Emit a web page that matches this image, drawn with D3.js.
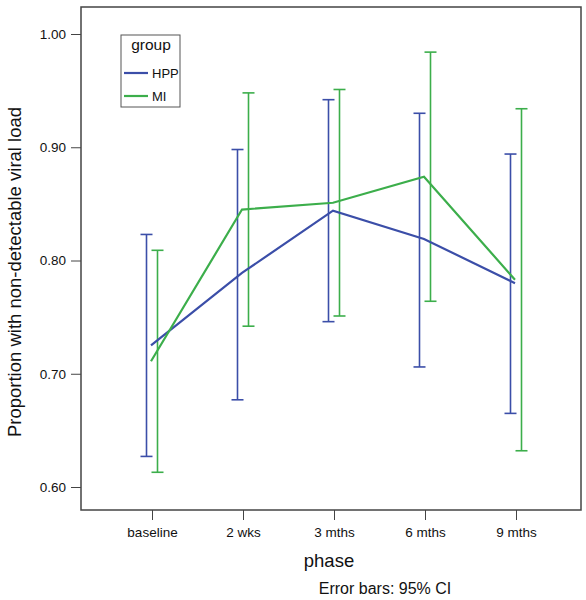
<!DOCTYPE html>
<html><head><meta charset="utf-8">
<script src="https://cdn.jsdelivr.net/npm/d3@7"></script>
<style>body{margin:0;background:#fff}svg{display:block}text{font-family:"Liberation Sans",Arial,sans-serif;fill:#111}</style>
</head><body>
<svg id="c" width="586" height="600"></svg>
<script>
const phases = ["baseline","2 wks","3 mths","6 mths","9 mths"];
const groups = ["HPP","MI"];
const hppMean = [0.725,0.789,0.844,0.819,0.780];
const hppLow  = [0.627,0.677,0.746,0.706,0.665];
const hppHigh = [0.823,0.898,0.942,0.930,0.894];
const miMean  = [0.711,0.845,0.851,0.874,0.783];
const miLow   = [0.613,0.742,0.751,0.764,0.632];
const miHigh  = [0.809,0.948,0.951,0.984,0.934];
const yTicks = [0.60,0.70,0.80,0.90,1.00];
const colors = {HPP:"#3b4ea8", MI:"#3cae4b"};

const svg = d3.select("#c");
const L=81, R=581, T=7, B=510;
const x = d3.scalePoint().domain(phases).range([152,516]);
const y = d3.scaleLinear().domain([0.6,1.0]).range([487,34]);

const series = [
  {g:"HPP", mean:hppMean, lo:hppLow, hi:hppHigh, off:-5.5},
  {g:"MI", mean:miMean, lo:miLow, hi:miHigh, off:5.5}
];

// frame
svg.append("rect").attr("x",L).attr("y",T).attr("width",R-L).attr("height",B-T)
  .attr("fill","none").attr("stroke","#444").attr("stroke-width",1.5);

// y axis
const ya = svg.append("g").attr("transform",`translate(${L},0)`)
  .call(d3.axisLeft(y).tickValues(yTicks).tickFormat(d3.format(".2f")).tickSize(10).tickSizeOuter(0));
ya.select(".domain").remove();
ya.selectAll("line").attr("stroke","#444");
ya.selectAll("text").attr("font-size",13.5).attr("dx","-0.15em");

// x axis
const xa = svg.append("g").attr("transform",`translate(0,${B})`)
  .call(d3.axisBottom(x).tickSize(10).tickSizeOuter(0));
xa.select(".domain").remove();
xa.selectAll("line").attr("stroke","#444");
xa.selectAll("text").attr("font-size",13.5).attr("dy","1em");

// error bars
series.forEach(s=>{
  const gg = svg.append("g").attr("stroke",colors[s.g]).attr("stroke-width",1.6).attr("fill","none");
  phases.forEach((p,i)=>{
    const cx = x(p)+s.off;
    gg.append("line").attr("x1",cx).attr("x2",cx).attr("y1",y(s.lo[i])).attr("y2",y(s.hi[i]));
    [s.lo[i],s.hi[i]].forEach(v=>{
      gg.append("line").attr("x1",cx-6).attr("x2",cx+6).attr("y1",y(v)).attr("y2",y(v));
    });
  });
});

// mean lines
const line = d3.line().x((d,i)=>x(phases[i])-1).y(d=>y(d));
series.forEach(s=>{
  svg.append("path").attr("d",line(s.mean)).attr("fill","none")
    .attr("stroke",colors[s.g]).attr("stroke-width",2.2);
});

// legend
const lg = svg.append("g");
lg.append("rect").attr("x",121).attr("y",35).attr("width",59).attr("height",72)
  .attr("fill","#fff").attr("stroke","#555").attr("stroke-width",1);
lg.append("text").attr("x",151).attr("y",50).attr("text-anchor","middle").attr("font-size",15.5).text("group");
groups.forEach((g,i)=>{
  const yy = 73 + i*23;
  lg.append("line").attr("x1",124).attr("x2",148).attr("y1",yy).attr("y2",yy)
    .attr("stroke",colors[g]).attr("stroke-width",2.2);
  lg.append("text").attr("x",152).attr("y",yy+5).attr("font-size",13).text(g);
});

// titles
svg.append("text").attr("transform","translate(21,272) rotate(-90)")
  .attr("text-anchor","middle").attr("font-size",18.5).text("Proportion with non-detectable viral load");
svg.append("text").attr("x",329).attr("y",567).attr("text-anchor","middle").attr("font-size",18.5).text("phase");
svg.append("text").attr("x",385).attr("y",594).attr("text-anchor","middle").attr("font-size",16).text("Error bars: 95% CI");
</script>
</body></html>
